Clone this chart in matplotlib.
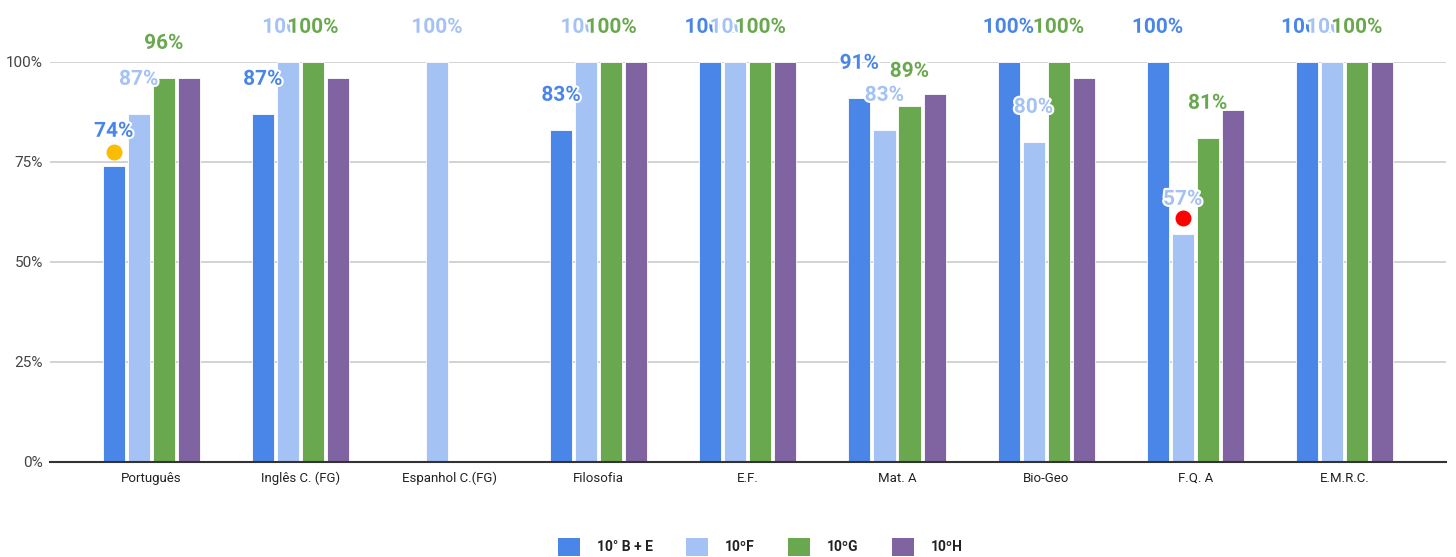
import numpy as np
import matplotlib
matplotlib.use("Agg")
import matplotlib.pyplot as plt
import matplotlib.patheffects as pe
from matplotlib.patches import Patch

plt.rcParams["font.family"] = ["Roboto", "DejaVu Sans"]

categories = ["Português", "Inglês C. (FG)", "Espanhol C.(FG)", "Filosofia", "E.F.",
              "Mat. A", "Bio-Geo", "F.Q. A", "E.M.R.C."]
series_names = ["10° B + E", "10ºF", "10ºG", "10ºH"]
colors = ["#4a86e8", "#a4c2f4", "#6aa84f", "#8064a2"]
nan = np.nan
b_e = [74, 87, nan, 83, 100, 91, 100, 100, 100]
f_ = [87, 100, 100, 100, 100, 83, 80, 57, 100]
g_ = [96, 100, nan, 100, 100, 89, 100, 81, 100]
h_ = [96, 96, nan, 100, 100, 92, 96, 88, 100]
values = [b_e, f_, g_, h_]
labelled = [True, True, True, False]

# marker dots (series index, category index, value)
dots = [(0, 0, 77.5, "#fbbc04"), (1, 7, 61, "#ff0000")]

fig = plt.figure(figsize=(14.56, 5.57), dpi=100)
ax = fig.add_axes([0.0343, 0.1706, 0.9587, 0.7181])

x = np.arange(len(categories))
step = 0.168
width = 0.148
offsets = (np.arange(4) - 1.5) * step

for vals, col, off in zip(values, colors, offsets):
    ax.bar(x + off, vals, width, color=col, edgecolor="white", linewidth=0.6, zorder=3)

halo = [pe.withStroke(linewidth=3, foreground="white")]
for vals, col, off, lab in zip(values, colors, offsets, labelled):
    if not lab:
        continue
    for xi, v in zip(x, vals):
        if np.isnan(v):
            continue
        ax.annotate(f"{v:.0f}%", (xi + off, v), xytext=(0, 25), textcoords="offset points",
                    ha="center", va="center", fontsize=15, fontweight="bold", color=col,
                    path_effects=halo, annotation_clip=False, zorder=5)

for si, ci, v, col in dots:
    ax.scatter([x[ci] + offsets[si]], [v], s=110, color=col, zorder=6, clip_on=False)

ax.set_xlim(-0.68, len(categories) - 1 + 0.68)
ax.set_ylim(0, 100)
ax.set_yticks([0, 25, 50, 75, 100])
ax.set_yticklabels(["0%", "25%", "50%", "75%", "100%"], fontsize=11, color="#444444")
ax.set_xticks(x)
ax.set_xticklabels(categories, fontsize=9.5, color="#222222")
ax.tick_params(axis="both", length=0)
ax.tick_params(axis="x", pad=7)
ax.tick_params(axis="y", pad=5)
ax.grid(axis="y", color="#cccccc", linewidth=1.2, zorder=0)
for s in ["top", "right", "left"]:
    ax.spines[s].set_visible(False)
ax.spines["bottom"].set_color("#333333")
ax.spines["bottom"].set_linewidth(1.5)
ax.spines["bottom"].set_zorder(4)

handles = [Patch(facecolor=c, label=n) for c, n in zip(colors, series_names)]
leg = fig.legend(handles=handles, loc="center", bbox_to_anchor=(0.522, 0.018), ncol=4,
                 frameon=False, handlelength=1.6, handleheight=1.7,
                 columnspacing=2.4, handletextpad=1.2, prop={"weight": "bold", "size": 10})
for t in leg.get_texts():
    t.set_color("#222222")

fig.savefig("out.png", dpi=100)
